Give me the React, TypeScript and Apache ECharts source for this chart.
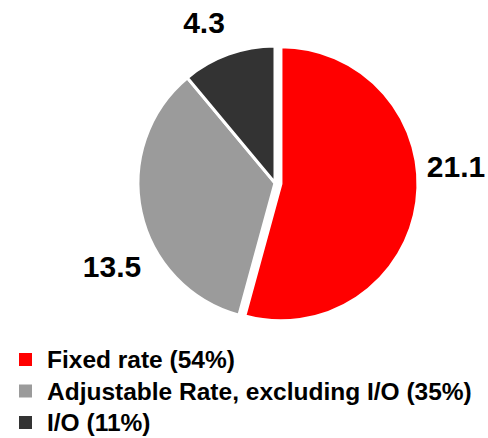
import React, { useEffect, useRef } from "react";
import * as echarts from "echarts";

const categories = [
  "Fixed rate (54%)",
  "Adjustable Rate, excluding I/O (35%)",
  "I/O (11%)",
];
const values = [21.1, 13.5, 4.3];
const colors = ["#FF0000", "#9B9B9B", "#333333"];
const labelPositions = [
  [456, 166],
  [112, 266],
  [204, 22],
];

export default function App() {
  const ref = useRef<HTMLDivElement>(null);

  useEffect(() => {
    if (!ref.current) return;
    const chart = echarts.init(ref.current, undefined, { renderer: "svg" });
    const font = "'Liberation Sans', Arial, sans-serif";
    chart.setOption({
      animation: false,
      legend: {
        orient: "vertical",
        left: 17,
        top: 347,
        height: 200,
        padding: 0,
        itemWidth: 15,
        itemHeight: 15,
        itemGap: 6.5,
        icon: "rect",
        selectedMode: false,
        data: categories,
        textStyle: {
          fontSize: 24.5,
          fontWeight: "bold",
          fontFamily: font,
          color: "#000",
          padding: [0, 0, 0, 9],
        },
      },
      graphic: values.map((v, i) => ({
        type: "text",
        x: labelPositions[i][0],
        y: labelPositions[i][1],
        silent: true,
        style: {
          text: String(v),
          fontSize: 30,
          fontWeight: "bold",
          fontFamily: font,
          fill: "#000",
          align: "center",
          verticalAlign: "middle",
        },
      })),
      series: [
        {
          type: "pie",
          center: [275, 183],
          radius: 137,
          startAngle: 90,
          clockwise: true,
          selectedMode: "single",
          selectedOffset: 6,
          itemStyle: { borderColor: "#fff", borderWidth: 3 },
          select: { itemStyle: { borderColor: "#fff", borderWidth: 3 } },
          emphasis: { disabled: true },
          label: { show: false },
          labelLine: { show: false },
          data: categories.map((name, i) => ({
            name,
            value: values[i],
            selected: i === 0,
            itemStyle: { color: colors[i] },
          })),
        },
      ],
    });
    return () => chart.dispose();
  }, []);

  return (
    <div
      ref={ref}
      style={{ position: "fixed", left: 0, top: 0, width: 488, height: 438, background: "#fff" }}
    />
  );
}
